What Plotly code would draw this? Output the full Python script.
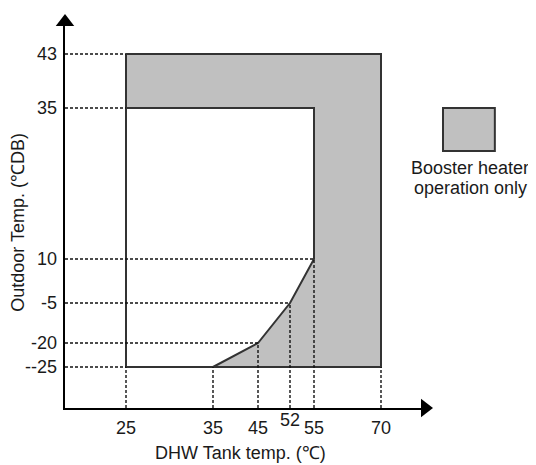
import numpy as np
import plotly.graph_objects as go

# schematic (non-linear) axes: tick values and where each sits along its axis
X_TICKS = [25, 35, 45, 52, 55, 70]
X_POS = [61, 148, 193, 225, 249, 316]
Y_TICKS = [-25, -20, -5, 10, 35, 43]
Y_POS = [41, 65, 105, 149, 300, 354]
Y_LABELS = ["--25", "-20", "-5", "10", "35", "43"]

# operation range boundary (DHW tank temp, outdoor temp)
CURVE_X = [35, 45, 52, 55]
CURVE_Y = [-25, -20, -5, 10]
TANK_MIN, TANK_MAX = 25, 70
OUT_MIN, OUT_MID, OUT_MAX = -25, 35, 43

FONT = "Liberation Sans, Arial, sans-serif"
INK = "#1a1a1a"
FS = 18


def sx(v):
    return np.interp(v, X_TICKS, X_POS)


def sy(v):
    return np.interp(v, Y_TICKS, Y_POS)


fig = go.Figure()

# booster heater only zone
zone_x = [TANK_MIN, TANK_MAX, TANK_MAX] + CURVE_X + [CURVE_X[-1], TANK_MIN, TANK_MIN]
zone_y = [OUT_MAX, OUT_MAX, OUT_MIN] + CURVE_Y + [OUT_MID, OUT_MID, OUT_MAX]
fig.add_trace(go.Scatter(x=sx(zone_x), y=sy(zone_y), fill="toself", fillcolor="#c0c0c0",
                         mode="lines", line=dict(color="#333333", width=2), showlegend=False))

# left / bottom edge of the normal range
fig.add_trace(go.Scatter(x=sx([TANK_MIN, TANK_MIN, CURVE_X[0]]), y=sy([OUT_MID, OUT_MIN, OUT_MIN]),
                         mode="lines", line=dict(color="#333333", width=2), showlegend=False))

# dashed guide lines to the axes
h_end = {43: TANK_MIN, 35: TANK_MIN, -25: TANK_MIN}
v_end = {25: OUT_MIN, 35: OUT_MIN, 70: OUT_MIN}
for cx, cy in zip(CURVE_X[1:], CURVE_Y[1:]):
    h_end[cy] = cx
    v_end[cx] = cy
dash = dict(color="#111111", width=1.4, dash="3px,2px")
for yv, xe in h_end.items():
    fig.add_trace(go.Scatter(x=[0, sx(xe)], y=[sy(yv)] * 2, mode="lines", line=dash,
                             showlegend=False))
for xv, ye in v_end.items():
    fig.add_trace(go.Scatter(x=[sx(xv)] * 2, y=[0, sy(ye)], mode="lines", line=dash,
                             showlegend=False))

# arrow heads
fig.add_trace(go.Scatter(x=[360], y=[0], mode="markers", cliponaxis=False,
                         marker=dict(symbol="triangle-right", size=16, color="black"),
                         showlegend=False))
fig.add_trace(go.Scatter(x=[0], y=[386], mode="markers", cliponaxis=False,
                         marker=dict(symbol="triangle-up", size=16, color="black"),
                         showlegend=False))

# tick labels
for v in X_TICKS:
    fig.add_annotation(x=sx(v), y=0, xref="x", yref="paper", text=str(v), showarrow=False,
                       xanchor="center", yanchor="top", yshift=0 if v == 52 else -8,
                       font=dict(size=FS, color=INK))
for v, lab in zip(Y_TICKS, Y_LABELS):
    fig.add_annotation(x=0, y=sy(v), xref="paper", yref="y", text=lab, showarrow=False,
                       xanchor="right", yanchor="middle", xshift=-6,
                       font=dict(size=FS, color=INK))

# axis titles
fig.add_annotation(x=175, y=0, xref="x", yref="paper", text="DHW Tank temp. (℃)",
                   showarrow=False, xanchor="center", yanchor="top", yshift=-33,
                   font=dict(size=FS, color=INK))
fig.add_annotation(x=0, y=0.48, xref="paper", yref="paper", text="Outdoor Temp. (℃DB)",
                   showarrow=False, textangle=-90, xanchor="center", yanchor="middle",
                   xshift=-47, font=dict(size=FS, color=INK))

# legend
fig.add_shape(type="rect", xref="paper", yref="paper", x0=1.05, x1=1.194, y0=0.6658, y1=0.7772,
              fillcolor="#c0c0c0", line=dict(color="#333333", width=2))
fig.add_annotation(x=1.125, y=0.622, xref="paper", yref="paper", text="Booster heater",
                   showarrow=False, xanchor="center", yanchor="middle",
                   font=dict(size=FS, color=INK))
fig.add_annotation(x=1.125, y=0.570, xref="paper", yref="paper", text="operation only",
                   showarrow=False, xanchor="center", yanchor="middle",
                   font=dict(size=FS, color=INK))

fig.update_xaxes(range=[0, 360], showgrid=False, zeroline=False, showticklabels=False,
                 ticks="", showline=True, linecolor="black", linewidth=2)
fig.update_yaxes(range=[0, 386], showgrid=False, zeroline=False, showticklabels=False,
                 ticks="", showline=True, linecolor="black", linewidth=2)
# page body keeps an 8px margin, so the figure is 8px smaller than the window
fig.update_layout(width=528, height=457, margin=dict(l=57, r=111, t=14, b=57),
                  plot_bgcolor="white", paper_bgcolor="white",
                  font=dict(family=FONT, size=FS, color=INK))

fig.write_html("out.html")
